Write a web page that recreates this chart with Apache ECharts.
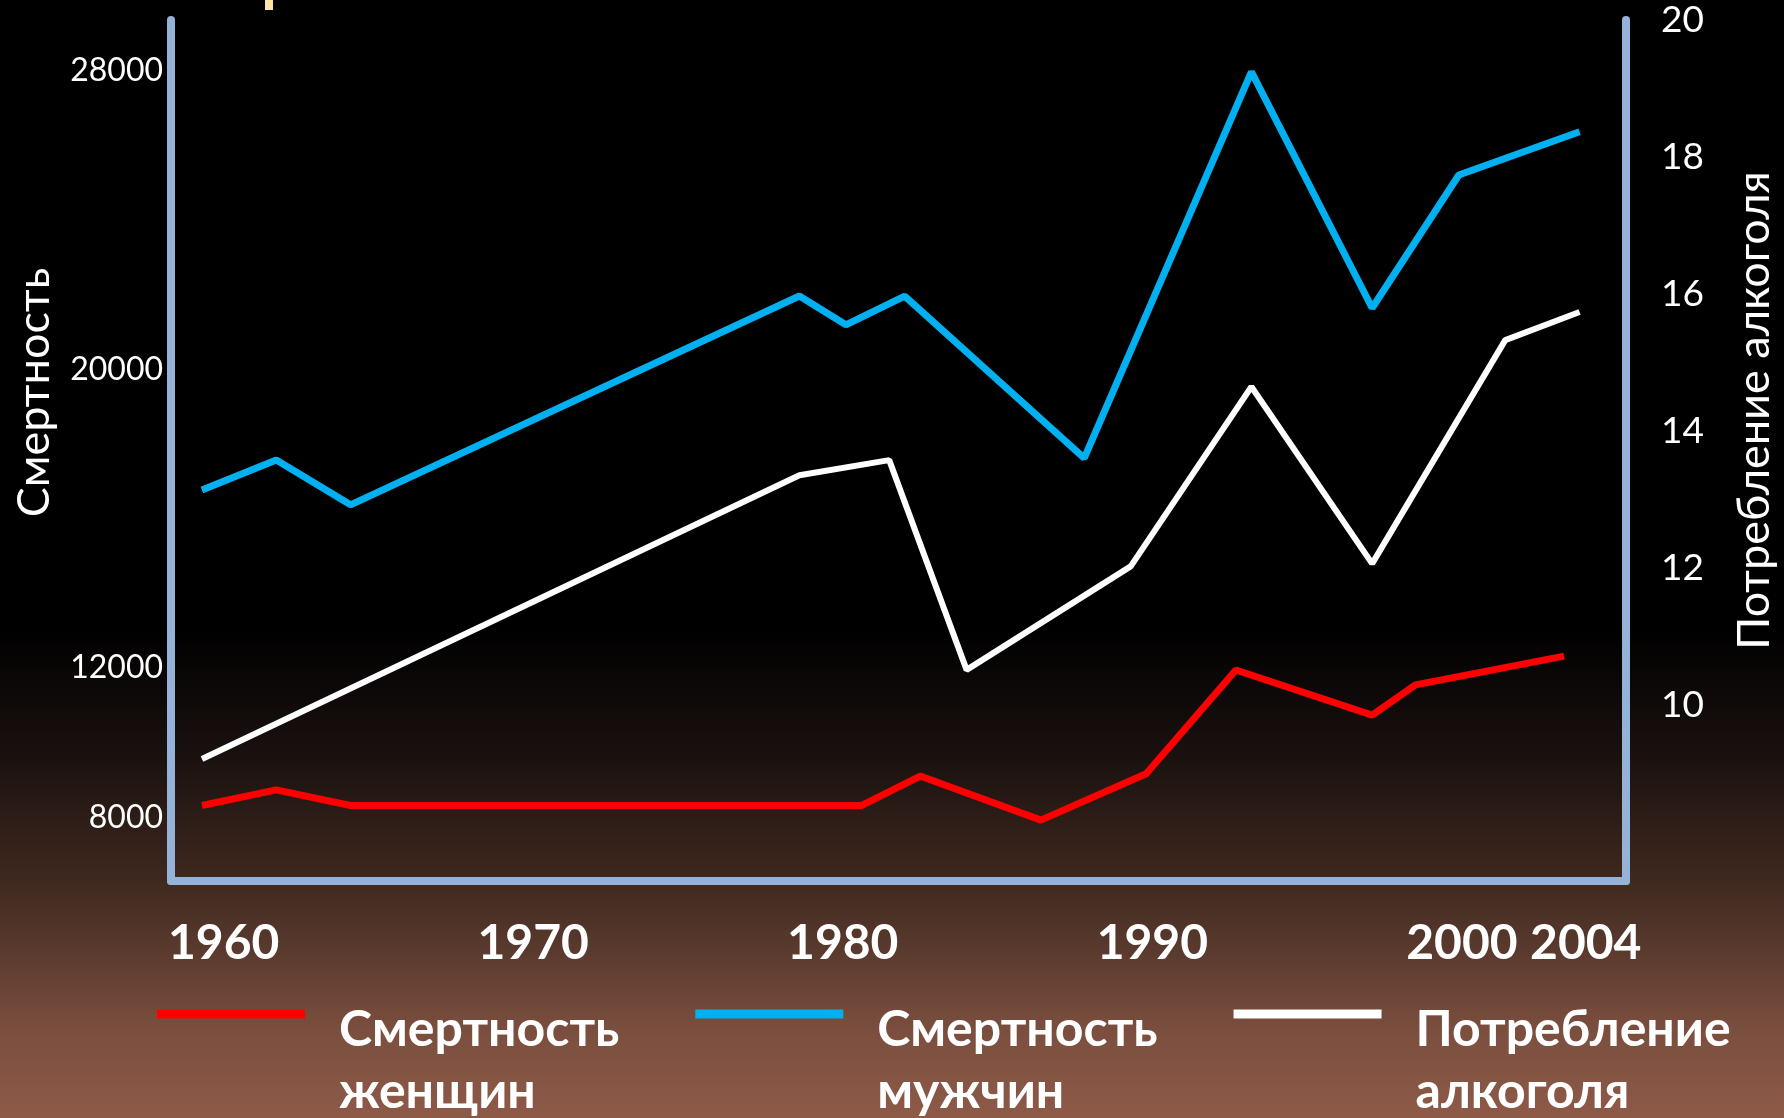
<!DOCTYPE html>
<html>
<head>
<meta charset="utf-8">
<script src="https://cdn.jsdelivr.net/npm/echarts@6/dist/echarts.min.js"></script>
<style>
html, body { margin: 0; padding: 0; background: #000; }
#chart { width: 1784px; height: 1118px; }
</style>
</head>
<body>
<div id="chart"></div>
<script>
// tick labels
var yearTicks = [1960, 1970, 1980, 1990, 2000, 2004];
var mortTicks = [8000, 12000, 20000, 28000];
var alcTicks = [10, 12, 14, 16, 18, 20];

// смертность женщин
var womenYears = [1959.3, 1961.7, 1964.1, 1980.6, 1982.5, 1986.4, 1989.8, 1992.7, 1997.1, 1998.5, 2003.3];
var womenDeaths = [8320, 8740, 8320, 8320, 9110, 7930, 9170, 11950, 10740, 11550, 12320];

// смертность мужчин
var menYears = [1959.3, 1961.7, 1964.1, 1978.6, 1980.1, 1982.0, 1987.8, 1993.2, 1997.1, 1999.9, 2003.8];
var menDeaths = [16770, 17570, 16370, 21960, 21190, 21960, 17620, 27960, 21640, 25200, 26360];

// потребление алкоголя
var alcYears = [1959.3, 1978.6, 1981.5, 1984.0, 1989.3, 1993.2, 1997.1, 2001.4, 2003.8];
var alcValues = [9.22, 13.36, 13.58, 10.52, 12.03, 14.65, 12.07, 15.33, 15.74];

var seriesNames = ['Смертность\nженщин', 'Смертность\nмужчин', 'Потребление\nалкоголя'];

var font = 'Lato, "Noto Sans", sans-serif';
var axisColor = '#95b3d7';

function pairs(xs, ys) {
    return xs.map(function (x, i) { return [x, ys[i]]; });
}
function plain(v) { return String(v); }

var chart = echarts.init(document.getElementById('chart'));
chart.setOption({
    backgroundColor: {
        type: 'linear', x: 0, y: 0, x2: 0, y2: 1,
        colorStops: [
            {offset: 0, color: '#000000'},
            {offset: 0.56, color: '#000000'},
            {offset: 0.68, color: '#1b1210'},
            {offset: 0.79, color: '#40291f'},
            {offset: 0.85, color: '#5a3a2e'},
            {offset: 0.92, color: '#7a4e3e'},
            {offset: 1, color: '#8e5a48'}
        ]
    },
    animation: false,
    grid: {left: 171, right: 158, top: 20, bottom: 237, outerBoundsMode: 'none'},
    graphic: [{
        type: 'rect', left: 265, top: 0,
        shape: {width: 8, height: 10},
        style: {fill: '#ffe2a6'}
    }],
    legend: {
        left: 152, top: 900,
        itemWidth: 148, itemHeight: 9, itemGap: 76,
        icon: 'rect',
        selectedMode: false,
        data: seriesNames,
        // empty first line pushes the two text lines below the line icon
        formatter: function (name) { return '{g| }\n' + name; },
        textStyle: {
            color: '#fff', fontFamily: font, fontSize: 50, fontWeight: 'bold',
            lineHeight: 62, padding: [0, 0, 0, 29],
            rich: {g: {fontSize: 10, lineHeight: 94}}
        }
    },
    xAxis: {
        type: 'value', min: 1958.3, max: 2005.3,
        axisLine: {show: true, onZero: false, lineStyle: {color: axisColor, width: 8}},
        axisTick: {show: false},
        splitLine: {show: false},
        axisLabel: {
            customValues: yearTicks, formatter: plain,
            color: '#fff', fontFamily: font, fontSize: 48, fontWeight: 'bold', margin: 39
        }
    },
    yAxis: [{
        type: 'value', position: 'left', min: 6300, max: 29350,
        axisLine: {show: true, lineStyle: {color: axisColor, width: 8}},
        axisTick: {show: false},
        splitLine: {show: false},
        axisLabel: {
            customValues: mortTicks, formatter: plain,
            color: '#fff', fontFamily: font, fontSize: 32, margin: 8
        },
        name: 'Смертность', nameLocation: 'middle', nameRotate: 90, nameGap: 114,
        nameTextStyle: {color: '#fff', fontFamily: font, fontSize: 45, padding: [0, 0, 0, 116]}
    }, {
        type: 'value', position: 'right', min: 7.44, max: 20,
        axisLine: {show: true, lineStyle: {color: axisColor, width: 8}},
        axisTick: {show: false},
        splitLine: {show: false},
        axisLabel: {
            customValues: alcTicks, formatter: plain,
            color: '#fff', fontFamily: font, fontSize: 37, margin: 35
        },
        name: 'Потребление алкоголя', nameLocation: 'middle', nameRotate: 90, nameGap: 106,
        nameTextStyle: {color: '#fff', fontFamily: font, fontSize: 45, padding: [0, 0, 0, 80]}
    }],
    series: [{
        name: seriesNames[0], type: 'line', yAxisIndex: 0,
        data: pairs(womenYears, womenDeaths),
        color: '#ff0000', symbol: 'none',
        lineStyle: {width: 7, color: '#ff0000'}
    }, {
        name: seriesNames[1], type: 'line', yAxisIndex: 0,
        data: pairs(menYears, menDeaths),
        color: '#00b0f0', symbol: 'none',
        lineStyle: {width: 7, color: '#00b0f0'}
    }, {
        name: seriesNames[2], type: 'line', yAxisIndex: 1,
        data: pairs(alcYears, alcValues),
        color: '#ffffff', symbol: 'none',
        lineStyle: {width: 6, color: '#ffffff'}
    }]
});
</script>
</body>
</html>
